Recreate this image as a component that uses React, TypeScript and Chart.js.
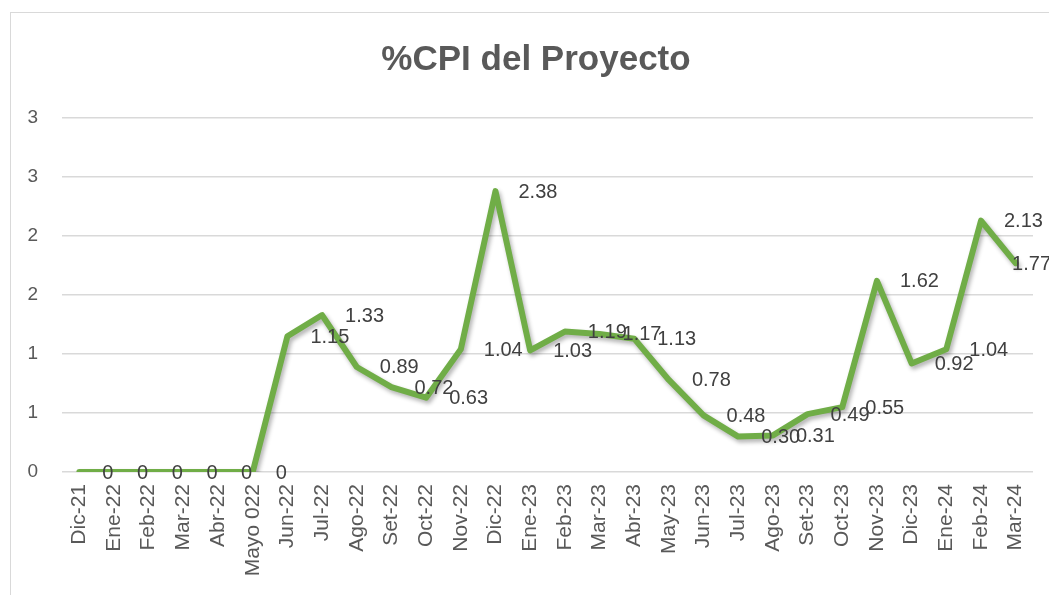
import React, { useEffect, useRef } from "react";
import { Chart, registerables } from "chart.js";

Chart.register(...registerables);

const chartTitle = "%CPI del Proyecto";

const categories = [
  "Dic-21", "Ene-22", "Feb-22", "Mar-22", "Abr-22", "Mayo 022", "Jun-22",
  "Jul-22", "Ago-22", "Set-22", "Oct-22", "Nov-22", "Dic-22", "Ene-23",
  "Feb-23", "Mar-23", "Abr-23", "May-23", "Jun-23", "Jul-23", "Ago-23",
  "Set-23", "Oct-23", "Nov-23", "Dic-23", "Ene-24", "Feb-24", "Mar-24",
];

const cpiValues = [
  0, 0, 0, 0, 0, 0, 1.15,
  1.33, 0.89, 0.72, 0.63, 1.04, 2.38, 1.03,
  1.19, 1.17, 1.13, 0.78, 0.48, 0.30, 0.31,
  0.49, 0.55, 1.62, 0.92, 1.04, 2.13, 1.77,
];

const yMin = 0;
const yMax = 3;
const yStep = 0.5;

const FONT = "'Liberation Sans', Arial, sans-serif";

export default function App() {
  const canvasRef = useRef<HTMLCanvasElement | null>(null);

  useEffect(() => {
    const canvas = canvasRef.current;
    if (!canvas) return;

    const shadowPlugin = {
      id: "lineShadow",
      beforeDatasetsDraw(chart: any) {
        const ctx = chart.ctx;
        ctx.save();
        ctx.shadowColor = "rgba(0,0,0,0.30)";
        ctx.shadowBlur = 4;
        ctx.shadowOffsetX = 2;
        ctx.shadowOffsetY = 3;
      },
      afterDatasetsDraw(chart: any) {
        chart.ctx.restore();
      },
    };

    const labelPlugin = {
      id: "valueLabels",
      afterDatasetsDraw(chart: any) {
        const ctx = chart.ctx;
        const meta = chart.getDatasetMeta(0);
        ctx.save();
        ctx.font = `20px ${FONT}`;
        ctx.fillStyle = "#404040";
        ctx.textAlign = "left";
        ctx.textBaseline = "middle";
        meta.data.forEach((pt: any, i: number) => {
          const v = cpiValues[i];
          const txt = v === 0 ? "0" : v.toFixed(2);
          const w = ctx.measureText(txt).width;
          const left = Math.min(pt.x + 23, chart.width - w - 8);
          ctx.fillText(txt, left, pt.y + 1);
        });
        ctx.restore();
      },
    };

    const titlePlugin = {
      id: "customTitle",
      afterDraw(chart: any) {
        const ctx = chart.ctx;
        ctx.save();
        ctx.font = `bold 35px ${FONT}`;
        ctx.fillStyle = "#595959";
        ctx.textAlign = "center";
        ctx.textBaseline = "alphabetic";
        ctx.fillText(chartTitle, 525, 57);
        ctx.restore();
      },
    };

    const chart = new Chart(canvas, {
      type: "line",
      data: {
        labels: categories,
        datasets: [
          {
            label: "%CPI",
            data: cpiValues,
            borderColor: "#70AD47",
            backgroundColor: "#70AD47",
            borderWidth: 6,
            borderJoinStyle: "round",
            borderCapStyle: "round",
            pointRadius: 0,
            tension: 0,
            fill: false,
          },
        ],
      },
      options: {
        responsive: false,
        animation: false,
        layout: { padding: { left: 0, right: 26, top: 105, bottom: 0 } },
        plugins: {
          legend: { display: false },
          title: { display: false },
          tooltip: { enabled: false },
        },
        scales: {
          x: {
            offset: true,
            grid: { display: false, drawTicks: false },
            border: { display: false },
            ticks: {
              autoSkip: false,
              maxRotation: 90,
              minRotation: 90,
              padding: 12,
              color: "#595959",
              font: { family: FONT, size: 21 },
            },
            afterFit(scale: any) {
              scale.height = 139;
            },
          },
          y: {
            min: yMin,
            max: yMax,
            grid: {
              color: "#D9D9D9",
              lineWidth: 1.5,
              drawTicks: false,
            },
            border: { display: false },
            ticks: {
              stepSize: yStep,
              padding: 24,
              color: "#595959",
              font: { family: FONT, size: 19 },
              callback: (value: any) => String(Math.round(Number(value))),
            },
            afterFit(scale: any) {
              scale.width = 51;
            },
          },
        },
      },
      plugins: [shadowPlugin, labelPlugin, titlePlugin],
    } as any);

    return () => chart.destroy();
  }, []);

  return (
    <div
      style={{
        position: "absolute",
        left: 0,
        top: 0,
        width: 1049,
        height: 595,
        overflow: "hidden",
        background: "#ffffff",
      }}
    >
      <div
        style={{
          position: "absolute",
          left: 10,
          top: 12,
          width: 1050,
          height: 600,
          border: "1px solid #D9D9D9",
          boxSizing: "border-box",
          background: "#ffffff",
        }}
      >
        <canvas ref={canvasRef} width={1048} height={598} style={{ display: "block" }} />
      </div>
    </div>
  );
}
